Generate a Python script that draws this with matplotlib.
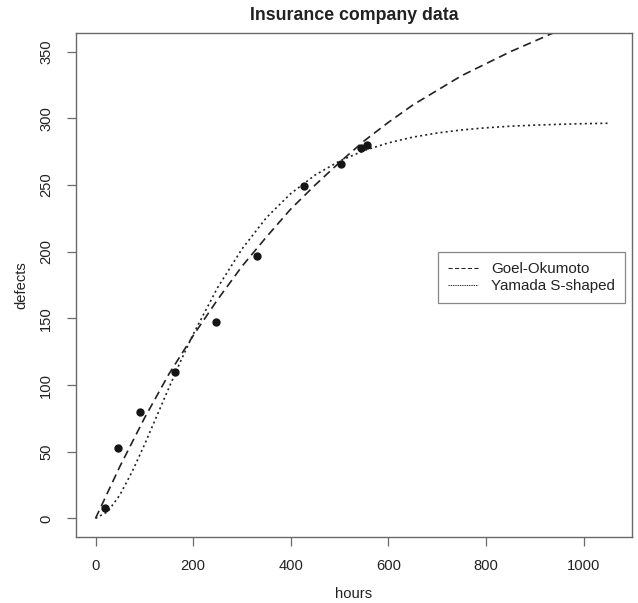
import matplotlib
matplotlib.use("Agg")
import matplotlib.pyplot as plt
from matplotlib.lines import Line2D

# === DATA ===
obs_hours = [19, 47, 91, 162, 246, 331, 427, 502, 544, 557]
obs_defects = [8, 53, 80, 110, 147, 197, 249, 266, 278, 280]

go_hours = [0, 50, 100, 150, 200, 250, 300, 350, 400, 450, 500,
            550, 600, 650, 700, 750, 800, 850, 900, 950, 1000, 1050]
go_defects = [0, 39, 75, 108, 137, 164, 189, 211, 232, 250, 267,
              283, 297, 310, 321, 332, 341, 350, 358, 366, 372, 378]

ys_hours = [0, 25, 50, 75, 100, 125, 150, 175, 200, 250, 300, 350, 400,
            450, 500, 550, 600, 650, 700, 750, 800, 850, 900, 950, 1000, 1050]
ys_defects = [0, 5, 17.6, 35, 55, 76.3, 97.6, 118.4, 138, 173, 202, 225.5, 243.6,
              257.5, 268, 275.8, 281.6, 285.9, 289, 291.3, 292.9, 294.1, 294.9,
              295.5, 296, 296.3]

x_ticks = [0, 200, 400, 600, 800, 1000]
y_ticks = [0, 50, 100, 150, 200, 250, 300, 350]

# === STYLE ===
plt.rcParams['font.family'] = ['Liberation Sans', 'DejaVu Sans']
FS = 10.6
FRAME = '#6a6a6a'
INK = '#222222'
LW = 1.2

fig = plt.figure(figsize=(6.38, 6.03), dpi=100)
ax = fig.add_axes([76 / 638, 66 / 603, 556 / 638, 504 / 603])

# curves
ax.plot(go_hours, go_defects, color=INK, lw=LW, dashes=(5, 3))
ax.plot(ys_hours, ys_defects, color=INK, lw=LW, dashes=(1.2, 1.9))
ax.plot(obs_hours, obs_defects, 'o', color='#151515', ms=5.0, mec='#151515')

ax.set_xlim(-40, 1099)
ax.set_ylim(-14, 364)
ax.set_xticks(x_ticks)
ax.set_yticks(y_ticks)
ax.set_xticklabels([str(v) for v in x_ticks])
ax.set_yticklabels([str(v) for v in y_ticks])

for s in ax.spines.values():
    s.set_color(FRAME)
    s.set_linewidth(1.0)

ax.tick_params(axis='both', direction='out', length=6.5, width=0.9,
               color=FRAME, labelcolor=INK, labelsize=FS)
ax.tick_params(axis='x', pad=9)
ax.tick_params(axis='y', pad=10)
plt.setp(ax.get_yticklabels(), rotation=90, va='center')

ax.set_xlabel('hours', fontsize=FS, color=INK)
ax.set_ylabel('defects', fontsize=FS, color=INK)
ax.xaxis.set_label_coords(0.5, -(587 - 537) / 504)
ax.yaxis.set_label_coords(-(76 - 28) / 556, 0.5)

fig.text(354 / 638, 1 - 16 / 603, 'Insurance company data', ha='center', va='center',
         fontsize=12.8, fontweight='bold', color=INK)

# legend
handles = [Line2D([], [], color=INK, lw=0.75, dashes=(4, 2.2)),
           Line2D([], [], color=INK, lw=0.75, dashes=(1.2, 1.0))]
leg = ax.legend(handles, ['Goel-Okumoto', 'Yamada S-shaped'],
                loc='upper left', bbox_to_anchor=((438 - 76) / 556, (537 - 252) / 504),
                borderaxespad=0, fontsize=10.9, frameon=True, fancybox=False,
                borderpad=0.65, handlelength=2.0, handletextpad=0.85, labelspacing=0.2)
leg.get_frame().set_edgecolor(FRAME)
leg.get_frame().set_linewidth(0.9)
for t in leg.get_texts():
    t.set_color(INK)

fig.savefig('out.png', dpi=100)
